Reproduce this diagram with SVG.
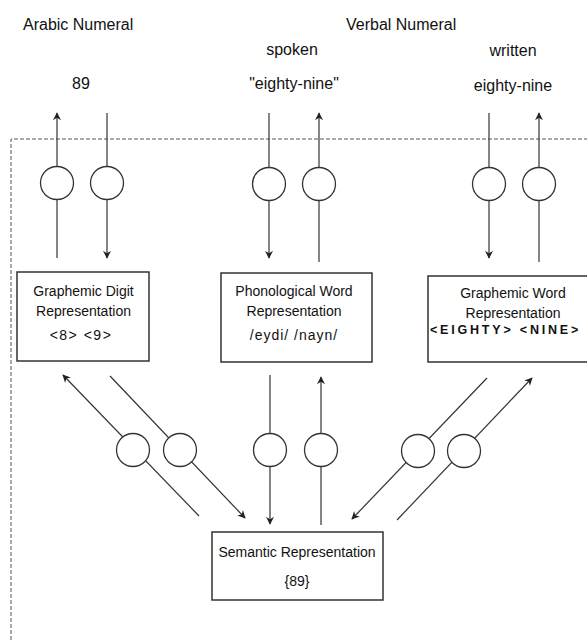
<svg xmlns="http://www.w3.org/2000/svg" width="587" height="640" viewBox="0 0 587 640">
<defs>
<marker id="ah" viewBox="0 0 10 10" refX="9" refY="5" markerWidth="8" markerHeight="8" markerUnits="userSpaceOnUse" orient="auto">
<path d="M0,0 L10,5 L0,10 L3,5 z" fill="#222"/>
</marker>
<style>
text{font-family:"Liberation Sans",Arial,sans-serif;fill:#111;}
.h{font-size:16px;}
.b{font-size:14px;text-anchor:middle;}
.box{fill:#fff;stroke:#333;stroke-width:1.5;}
.c{fill:#fff;stroke:#333;stroke-width:1.3;}
.ln{stroke:#333;stroke-width:1.2;fill:none;}
.ar{marker-end:url(#ah);}
.dash{stroke:#555;stroke-width:1;stroke-dasharray:4 2;fill:none;}
</style>
</defs>
<rect width="587" height="640" fill="#fff"/>
<g id="labels">
<text class="h" x="23" y="30">Arabic Numeral</text>
<text class="h" x="346" y="30">Verbal Numeral</text>
<text class="h" x="292" y="55" text-anchor="middle">spoken</text>
<text class="h" x="513" y="56" text-anchor="middle">written</text>
<text class="h" x="81" y="89" text-anchor="middle">89</text>
<text class="h" x="294" y="89" text-anchor="middle">"eighty-nine"</text>
<text class="h" x="513" y="91" text-anchor="middle">eighty-nine</text>
</g>
<g id="border">
<path class="dash" d="M11,640 L11,139 L587,139"/>
</g>
<g id="connectors">
<line class="ln ar" x1="57" y1="258" x2="57" y2="113"/>
<line class="ln ar" x1="107" y1="113" x2="107" y2="258"/>
<line class="ln ar" x1="269" y1="113" x2="269" y2="258"/>
<line class="ln ar" x1="319" y1="262" x2="319" y2="113"/>
<line class="ln ar" x1="489" y1="113" x2="489" y2="258"/>
<line class="ln ar" x1="539" y1="262" x2="539" y2="113"/>
<line class="ln ar" x1="199" y1="516" x2="63" y2="375"/>
<line class="ln ar" x1="110" y1="376" x2="245" y2="518"/>
<line class="ln ar" x1="270" y1="375" x2="270" y2="524"/>
<line class="ln ar" x1="321" y1="525" x2="321" y2="377"/>
<line class="ln ar" x1="487" y1="378" x2="352" y2="519"/>
<line class="ln ar" x1="397" y1="520" x2="532" y2="378"/>
<circle class="c" cx="57" cy="183" r="16.5"/>
<circle class="c" cx="107" cy="183" r="16.5"/>
<circle class="c" cx="269" cy="184" r="16.5"/>
<circle class="c" cx="319" cy="184" r="16.5"/>
<circle class="c" cx="489" cy="184" r="16.5"/>
<circle class="c" cx="539" cy="184" r="16.5"/>
<circle class="c" cx="133" cy="450" r="16.5"/>
<circle class="c" cx="180" cy="450" r="16.5"/>
<circle class="c" cx="270" cy="450" r="16.5"/>
<circle class="c" cx="321" cy="450" r="16.5"/>
<circle class="c" cx="418" cy="451" r="16.5"/>
<circle class="c" cx="464" cy="451" r="16.5"/>
</g>
<g id="graphemic-digit">
<rect class="box" x="17" y="272" width="132" height="89"/>
<text class="b" x="83.5" y="296">Graphemic Digit</text>
<text class="b" x="83.5" y="316">Representation</text>
<text class="b" x="81" y="340" letter-spacing="1.5">&lt;8&gt; &lt;9&gt;</text>
</g>
<g id="phonological-word">
<rect class="box" x="221" y="273" width="151" height="89"/>
<text class="b" x="294" y="296">Phonological Word</text>
<text class="b" x="294" y="316">Representation</text>
<text class="b" x="294" y="340" letter-spacing="1">/eydi/ /nayn/</text>
</g>
<g id="graphemic-word">
<rect class="box" x="428" y="276" width="172" height="86"/>
<text class="b" x="513" y="298">Graphemic Word</text>
<text class="b" x="513" y="318">Representation</text>
<text x="430" y="334" font-size="12.5" font-weight="bold" letter-spacing="2.8">&lt;EIGHTY&gt; &lt;NINE&gt;</text>
</g>
<g id="semantic">
<rect class="box" x="212" y="532" width="171" height="68"/>
<text class="b" x="297" y="557">Semantic Representation</text>
<text class="b" x="297" y="586">{89}</text>
</g>
</svg>
